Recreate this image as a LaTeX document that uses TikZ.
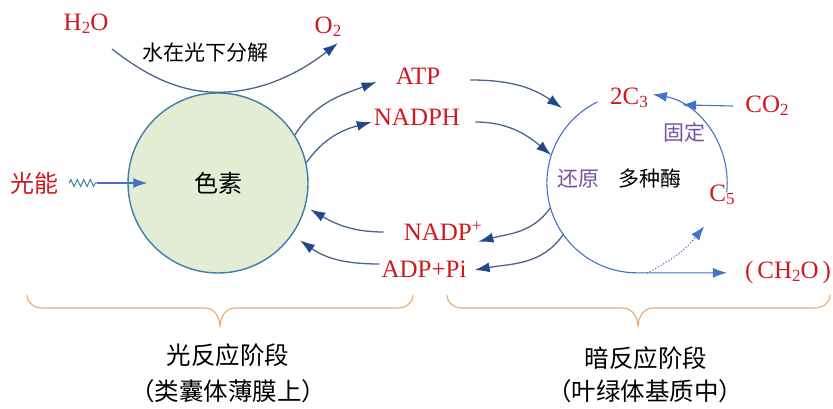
\documentclass[tikz,border=0pt]{standalone}
\usepackage{fontspec}
\setmainfont{Liberation Serif}
\newfontfamily\cjk{Noto Sans CJK SC}
\usepackage{xcolor}
\usetikzlibrary{arrows.meta, positioning, calc, decorations.pathmorphing}

\definecolor{chemred}{RGB}{208,24,30}
\definecolor{flowline}{RGB}{74,100,138}
\definecolor{flowhead}{RGB}{34,72,140}
\definecolor{ringblue}{RGB}{62,126,170}
\definecolor{cycleblue}{RGB}{68,114,196}
\definecolor{pigfill}{RGB}{226,237,212}
\definecolor{procpurple}{RGB}{118,82,158}
\definecolor{braceorange}{RGB}{232,168,112}

\newcommand{\dn}[1]{\raisebox{-0.3ex}{\fontsize{17}{17}\selectfont #1}}

\begin{document}
\begin{tikzpicture}[x=1pt, y=1pt,
    chem/.style={text=chemred, font=\fontsize{25}{28}\selectfont, inner sep=0pt},
    note/.style={font=\cjk\fontsize{21}{24}\selectfont, inner sep=0pt},
    proc/.style={note, text=procpurple},
    stage/.style={font=\cjk\fontsize{24.5}{28}\selectfont, inner sep=0pt},
    flow/.style={draw=flowline, line width=1.3pt, -{Latex[length=15pt, width=10pt, color=flowhead]}},
    cyc/.style={draw=cycleblue, line width=1.1pt},
    cyctip/.style={-{Latex[length=14pt, width=10pt]}},
    brc/.style={draw=braceorange, line width=1.1pt}]
    \useasboundingbox (0,0) rectangle (833,409);

    % Pigment and light reaction
    \node[circle, draw=ringblue, line width=1.4pt, fill=pigfill, minimum size=180pt, inner sep=0pt,
          font=\cjk\fontsize{24}{26}\selectfont] (pig) at (218,226) {色素};
    \node[chem] (h2o) at (86,385) {H\dn{2}O};
    \node[chem] (o2) at (328,382) {O\dn{2}};
    \node[note] (split) at (205,356) {水在光下分解};
    \node[chem, font=\cjk\fontsize{24}{26}\selectfont] (light) at (34,226) {光能};

    \draw[flow] ([shift={(26pt,-25pt)}]h2o.center) to[out=-38, in=180, looseness=0.9] (pig.north)
        to[out=0, in=218, looseness=0.9] ([shift={(10pt,-16pt)}]o2.center);

    \coordinate (zz) at ($(light.east)+(39pt,0)$);
    \draw[draw=ringblue, line width=1pt, decorate, decoration={zigzag, segment length=6.5pt, amplitude=3.5pt}]
        ([xshift=11pt]light.east) -- (zz);
    \draw[cyc, cyctip] (zz) -- ($(pig.west)+(20pt,0)$);

    % Products and returns
    \node[chem] (atp) at (418,333) {ATP};
    \node[chem] (nadph) at (417,292) {NADPH};
    \node[chem] (nadp) at (443,178) {NADP\textsuperscript{+}};
    \node[chem] (adp) at (424,140) {ADP+Pi};

    \draw[flow] (pig.32) to[out=58, in=200] ([shift={(-19pt,-6pt)}]atp.west);
    \draw[flow] (pig.13) to[out=55, in=195] ([shift={(-2pt,-5pt)}]nadph.west);

    % Calvin cycle
    \node[circle, minimum size=180pt, inner sep=0pt] (dark) at (637,226) {};
    \node[chem] (c3) at (629,311) {2C\dn{3}};
    \node[chem] (co2) at (767,303) {CO\dn{2}};
    \node[chem] (c5) at (722,214) {C\dn{5}};
    \node[chem] (ch2o) at (788,137) {(\hspace{4pt}CH\dn{2}O\hspace{4pt})};
    \node[proc] (fix) at (684,277) {固定};
    \node[proc] (redu) at (578,230) {还原};
    \node[note] (enz) at (650,230) {多种酶};

    \draw[cyc, cyctip] (dark.-6) arc[start angle=-6, end angle=80, radius=90pt];
    \draw[cyc, cyctip] (dark.116) arc[start angle=116, end angle=270, radius=90pt] -- ++(90,0);
    \draw[cyc, cyctip] ([xshift=-12pt]co2.west) -- (dark.60);
    \draw[cyc, dotted, cyctip] ($(dark.270)+(10pt,0)$) to[bend right=12] ($(c5.south west)+(-5pt,-21pt)$);

    \draw[flow] ([shift={(30pt,-4pt)}]atp.east) to[out=0, in=145] ($(dark.center)+(135:106pt)$);
    \draw[flow] ([shift={(15pt,-5pt)}]nadph.east) to[out=0, in=140] (dark.162);
    \draw[flow] (dark.196) to[out=235, in=15] ([xshift=-4pt, yshift=-1pt]nadp.south east);
    \draw[flow] (dark.215) to[out=235, in=10] ([shift={(8pt,-1pt)}]adp.east);
    \draw[flow] ([shift={(-20pt,-1pt)}]nadp.west) to[out=180, in=-30] ($(pig.center)+(-16:96pt)$);
    \draw[flow] ([shift={(-2pt,5pt)}]adp.west) to[out=180, in=-35] ($(pig.center)+(-35:100pt)$);

    % Stages
    \draw[brc] (27,114) to[out=-90, in=180] (42,101) -- (205,101) to[out=0, in=90] (220,82)
        to[out=90, in=180] (235,101) -- (398,101) to[out=0, in=-90] (413,114);
    \draw[brc] (447,114) to[out=-90, in=180] (462,101) -- (623,101) to[out=0, in=90] (638,82)
        to[out=90, in=180] (653,101) -- (815,101) to[out=0, in=-90] (830,114);

    \node[stage] (lstage) at (228,54) {光反应阶段};
    \node[stage] (lplace) at (228,18) {（类囊体薄膜上）};
    \node[stage] (dstage) at (646,51) {暗反应阶段};
    \node[stage] (dplace) at (645,18) {（叶绿体基质中）};
\end{tikzpicture}
\end{document}
